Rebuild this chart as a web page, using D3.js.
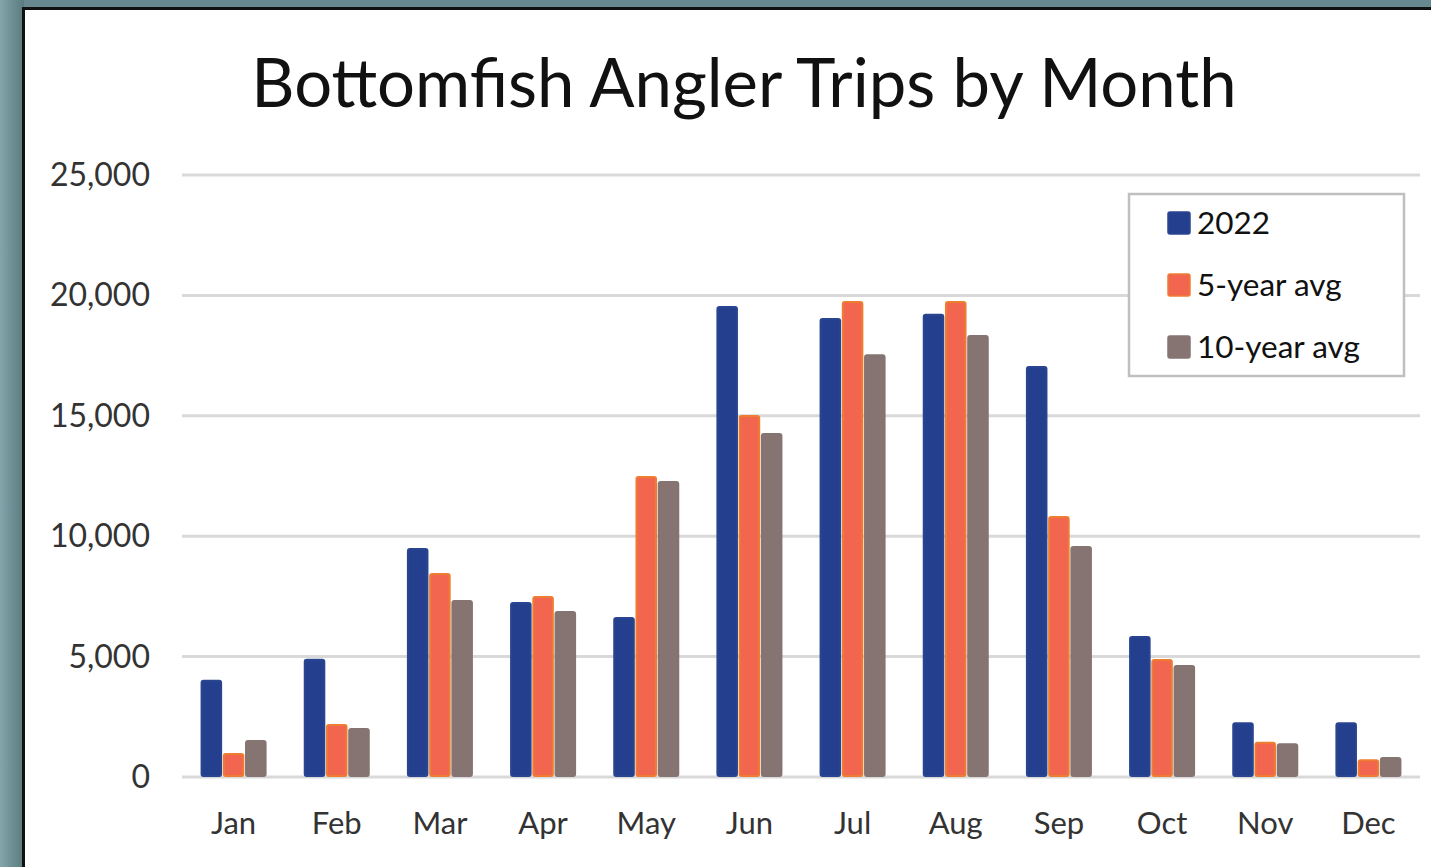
<!DOCTYPE html>
<html>
<head>
<meta charset="utf-8">
<script src="https://cdn.jsdelivr.net/npm/d3@7"></script>
<style>
  html, body { margin: 0; padding: 0; }
  body { width: 1431px; height: 867px; overflow: hidden; background: #668a8f; }
  svg { display: block; }
</style>
</head>
<body>
<svg id="chart"></svg>
<script>
const months = ["Jan", "Feb", "Mar", "Apr", "May", "Jun", "Jul", "Aug", "Sep", "Oct", "Nov", "Dec"];
const seriesNames = ["2022", "5-year avg", "10-year avg"];
const trips2022 = [4000, 4870, 9470, 7230, 6600, 19520, 19020, 19200, 17030, 5810, 2230, 2230];
const avg5yr = [950, 2160, 8430, 7480, 12460, 14990, 19730, 19730, 10800, 4860, 1420, 700];
const avg10yr = [1500, 1990, 7310, 6850, 12250, 14240, 17510, 18310, 9550, 4610, 1360, 790];
const yTicks = [0, 5000, 10000, 15000, 20000, 25000];

const fills = ["#253f8f", "#f2654f", "#857472"];
const strokes = ["#2a4590", "#ee7d31", "#857472"];

const width = 1431;
const height = 867;

const svg = d3.select("#chart").attr("width", width).attr("height", height);

// frame: teal surround with white panel
const defs = svg.append("defs");
const grad = defs.append("linearGradient").attr("id", "edge").attr("x1", 0).attr("x2", 1);
grad.append("stop").attr("offset", "0%").attr("stop-color", "#82a6ab");
grad.append("stop").attr("offset", "100%").attr("stop-color", "#5a7b80");
svg.append("rect").attr("x", 0).attr("y", 0).attr("width", 24).attr("height", height).attr("fill", "url(#edge)");

svg.append("rect")
  .attr("x", 23.5).attr("y", 8.5)
  .attr("width", width).attr("height", height)
  .attr("fill", "#ffffff")
  .attr("stroke", "#111")
  .attr("stroke-width", 3);

const margin = { top: 175, right: 11, bottom: 90, left: 182 };

const x = d3.scaleBand()
  .domain(months)
  .range([margin.left, width - margin.right])
  .paddingInner(0.36)
  .paddingOuter(0.18);

const xSub = d3.scaleBand()
  .domain(seriesNames)
  .range([0, x.bandwidth()])
  .paddingInner(0.03);

const y = d3.scaleLinear()
  .domain([0, 25000])
  .range([777, 175]);

// title
svg.append("text")
  .attr("x", 744)
  .attr("y", 107)
  .attr("text-anchor", "middle")
  .style("font-family", "Lato, 'Open Sans', sans-serif")
  .style("font-size", "67px")
  .attr("fill", "#111")
  .text("Bottomfish Angler Trips by Month");

// gridlines
svg.append("g")
  .selectAll("line")
  .data(yTicks)
  .join("line")
  .attr("x1", margin.left)
  .attr("x2", width - margin.right)
  .attr("y1", (d) => y(d))
  .attr("y2", (d) => y(d))
  .attr("stroke", "#d9d9d9")
  .attr("stroke-width", 3);

// y labels
svg.append("g")
  .selectAll("text")
  .data(yTicks)
  .join("text")
  .attr("x", 150)
  .attr("y", (d) => y(d) + 11)
  .attr("text-anchor", "end")
  .style("font-family", "Lato, 'Open Sans', sans-serif")
  .style("font-size", "32px")
  .attr("fill", "#333")
  .text((d) => d3.format(",")(d));

// x labels
svg.append("g")
  .selectAll("text")
  .data(months)
  .join("text")
  .attr("x", (d) => x(d) + x.bandwidth() / 2)
  .attr("y", 834)
  .attr("text-anchor", "middle")
  .style("font-family", "Lato, 'Open Sans', sans-serif")
  .style("font-size", "31px")
  .attr("fill", "#333")
  .text((d) => d);

// bars
const allSeries = [trips2022, avg5yr, avg10yr];
const rows = [];
months.forEach(function (m, i) {
  seriesNames.forEach(function (s, j) {
    rows.push({ month: m, series: s, idx: j, value: allSeries[j][i] });
  });
});

svg.append("g")
  .selectAll("rect")
  .data(rows)
  .join("rect")
  .attr("x", (d) => x(d.month) + xSub(d.series) + 1)
  .attr("y", (d) => y(d.value))
  .attr("width", xSub.bandwidth() - 2)
  .attr("height", (d) => y(0) - y(d.value) - 1)
  .attr("rx", 2)
  .attr("fill", (d) => fills[d.idx])
  .attr("stroke", (d) => strokes[d.idx])
  .attr("stroke-width", 2);

// legend
const legend = svg.append("g").attr("transform", "translate(1129, 194)");
legend.append("rect")
  .attr("width", 275)
  .attr("height", 182)
  .attr("fill", "#fff")
  .attr("stroke", "#bfbfbf")
  .attr("stroke-width", 2.5);

const item = legend.selectAll("g")
  .data(seriesNames)
  .join("g")
  .attr("transform", (d, i) => `translate(39, ${18 + i * 62})`);

item.append("rect")
  .attr("width", 22)
  .attr("height", 22)
  .attr("rx", 2)
  .attr("fill", (d, i) => fills[i])
  .attr("stroke", (d, i) => strokes[i])
  .attr("stroke-width", 1.5);

item.append("text")
  .attr("x", 29)
  .attr("y", 22)
  .style("font-family", "Lato, 'Open Sans', sans-serif")
  .style("font-size", "31.5px")
  .attr("fill", "#111")
  .text((d) => d);
</script>
</body>
</html>
